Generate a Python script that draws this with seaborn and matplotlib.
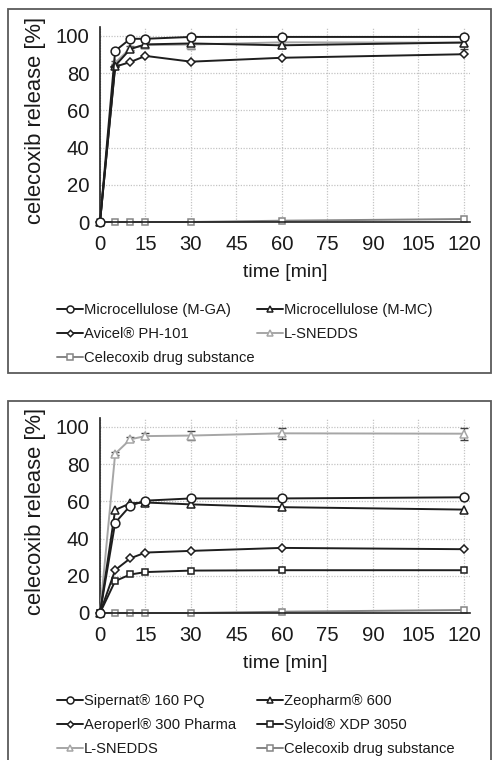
import numpy as np
import pandas as pd
import matplotlib
matplotlib.use("Agg")
import matplotlib.pyplot as plt
from matplotlib.patches import Rectangle
import seaborn as sns

# sampling times [min]
time_min = [0, 5, 10, 15, 30, 60, 120]

# upper panel: cellulose carriers
mga = [0, 92, 98.5, 98.5, 99.5, 99.5, 99.5]
mmc = [0, 84, 93, 95.5, 96, 95, 96.5]
avicel = [0, 83.5, 86, 89.3, 86.2, 88.3, 90.2]

# lower panel: silica carriers
sipernat = [0, 48.5, 57.7, 60.4, 61.6, 61.6, 62.2]
zeopharm = [0, 55.4, 59, 59.4, 58.4, 56.9, 55.6]
aeroperl = [0, 23.1, 29.4, 32.5, 33.4, 35.0, 34.3]
syloid = [0, 17.2, 20.7, 22.0, 22.8, 23.0, 23.0]

# references shown in both panels
lsnedds = [0, 85.6, 93.4, 95.1, 95.4, 96.6, 96.4]
lsnedds_sd = [0, 0.8, 1.0, 1.6, 2.6, 3.0, 3.2]
api = [0, 0, 0, 0, 0, 0.7, 1.6]

DARK = "#1e1e1e"
LIGHT = "#a6a6a6"
MID = "#858585"
TXT = "#1a1a1a"

sns.set_style("white")
plt.rcParams["font.family"] = ["Liberation Sans", "DejaVu Sans"]

W, H = 493, 760
fig = plt.figure(figsize=(W / 100, H / 100), dpi=100)


def fx(px):
    return px / W


def fy(py):
    return (H - py) / H


# panel frames
for top, bottom in [(9, 373), (401, H + 10)]:
    fig.patches.append(Rectangle((fx(8), fy(bottom)), fx(491) - fx(8), fy(top) - fy(bottom),
                                 transform=fig.transFigure, fill=False,
                                 edgecolor="#5a5a5a", linewidth=1.3, zorder=0))

ax_top = fig.add_axes([fx(100), fy(222), fx(470) - fx(100), 195.3 / H])
ax_bot = fig.add_axes([fx(100), fy(613), fx(470) - fx(100), 195.3 / H])

style = {
    "circle": dict(marker="o", ms=6.3),
    "tri": dict(marker="^", ms=5.8),
    "diam": dict(marker="D", ms=4.0),
    "sq": dict(marker="s", ms=4.8),
}


def draw(ax, name, values, color, shape, sd=None, z=3):
    df = pd.DataFrame({"time [min]": time_min, "release": values})
    st = style[shape]
    sns.lineplot(data=df, x="time [min]", y="release", ax=ax, color=color, lw=1.4,
                 marker=st["marker"], markersize=st["ms"], markerfacecolor="white",
                 markeredgecolor=color, markeredgewidth=1.1, label=name, zorder=z,
                 clip_on=False)
    if sd is not None:
        ax.errorbar(time_min, values, yerr=sd, fmt="none", ecolor="#404040", elinewidth=0.9,
                    capsize=3, capthick=1.0, zorder=z - 0.5, clip_on=False)


def finish(ax, col1, col2, zero_px):
    ax.set_xlim(0, 122)
    ax.set_ylim(0, 105)
    ax.set_xticks(np.arange(0, 121, 15))
    ax.set_yticks(np.arange(0, 101, 20))
    ax.grid(True, color="#c4c4c4", linestyle=(0, (1, 1.2)), linewidth=0.9)
    ax.set_axisbelow(True)
    for s in ("top", "right"):
        ax.spines[s].set_visible(False)
    for s in ("left", "bottom"):
        ax.spines[s].set_color("#202020")
        ax.spines[s].set_linewidth(1.2)
    ax.tick_params(axis="both", direction="out", length=5, width=1.0, color="#202020",
                   labelsize=14.6, labelcolor=TXT)
    ax.tick_params(axis="x", pad=4.5)
    ax.tick_params(axis="y", pad=2.5)
    ax.set_xlabel("time [min]", fontsize=14, color=TXT, labelpad=7)
    ax.set_ylabel("celecoxib release [%]", fontsize=15.8, color=TXT)
    ax.yaxis.set_label_coords(-0.145, 0.52)
    ax.get_legend().remove()
    handles, labels = ax.get_legend_handles_labels()
    lookup = dict(zip(labels, handles))
    top_y = zero_px + 81
    first = None
    for names, x_px in [(col1, 57), (col2, 257)]:
        leg = ax.legend([lookup[k] for k in names], names, frameon=False, fontsize=10.6,
                        loc="upper left", bbox_to_anchor=(fx(x_px), fy(top_y)),
                        bbox_transform=fig.transFigure, handlelength=1.75,
                        handletextpad=0.05, labelspacing=0.67, borderpad=0,
                        borderaxespad=0, markerscale=0.8)
        for t in leg.get_texts():
            t.set_color(TXT)
        if first is None:
            first = leg
            ax.add_artist(leg)


# upper panel
draw(ax_top, "Celecoxib drug substance", api, MID, "sq", z=2)
draw(ax_top, "L-SNEDDS", lsnedds, LIGHT, "tri", sd=lsnedds_sd, z=3)
draw(ax_top, "Avicel® PH-101", avicel, DARK, "diam", z=4)
draw(ax_top, "Microcellulose (M-MC)", mmc, DARK, "tri", z=5)
draw(ax_top, "Microcellulose (M-GA)", mga, DARK, "circle", z=6)
finish(ax_top, ["Microcellulose (M-GA)", "Avicel® PH-101", "Celecoxib drug substance"],
       ["Microcellulose (M-MC)", "L-SNEDDS"], 222)

# lower panel
draw(ax_bot, "Celecoxib drug substance", api, MID, "sq", z=2)
draw(ax_bot, "L-SNEDDS", lsnedds, LIGHT, "tri", sd=lsnedds_sd, z=3)
draw(ax_bot, "Syloid® XDP 3050", syloid, DARK, "sq", z=4)
draw(ax_bot, "Aeroperl® 300 Pharma", aeroperl, DARK, "diam", z=5)
draw(ax_bot, "Zeopharm® 600", zeopharm, DARK, "tri", z=6)
draw(ax_bot, "Sipernat® 160 PQ", sipernat, DARK, "circle", z=7)
finish(ax_bot, ["Sipernat® 160 PQ", "Aeroperl® 300 Pharma", "L-SNEDDS"],
       ["Zeopharm® 600", "Syloid® XDP 3050", "Celecoxib drug substance"], 613)

fig.savefig("out.png", dpi=100)
